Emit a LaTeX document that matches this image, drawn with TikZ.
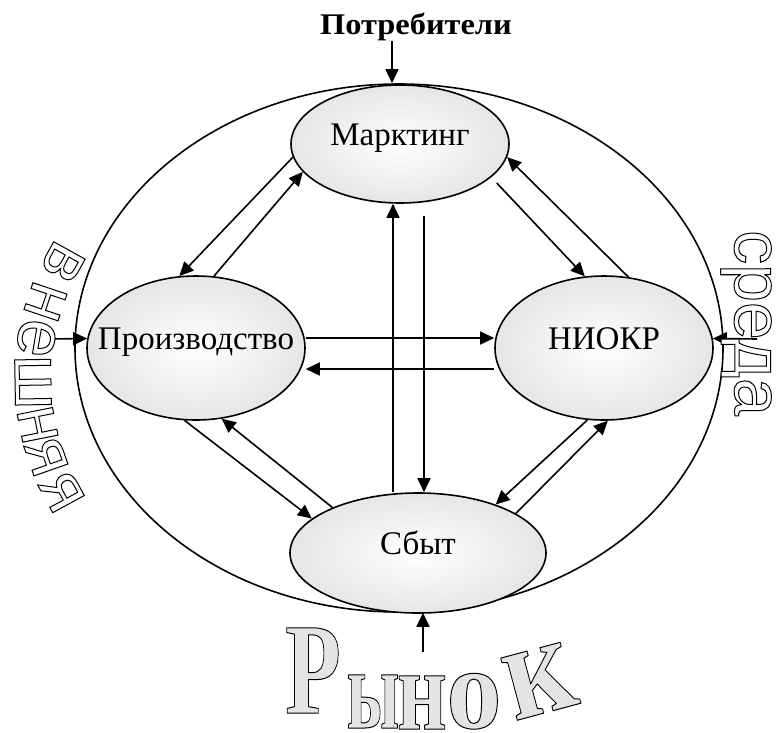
\documentclass[tikz,border=0pt]{standalone}
\usepackage{fontspec}
\setmainfont{Liberation Serif}
\newfontfamily\wordartsans{Liberation Sans}
\usepackage{tikz}
\usetikzlibrary{shapes.geometric,arrows.meta,positioning}
\definecolor{unitshade}{HTML}{E6E6E6}
\definecolor{rynokfill}{HTML}{E4E4E4}
\newcommand{\inell}[1]{\makebox[0pt]{#1}}
% outlined letters: fill with the current colour, stroke in black
\newcommand{\hollow}[2]{\special{pdf:literal direct 2 Tr #1 w 0 G}#2\special{pdf:literal direct 0 Tr}}

\begin{document}
\begin{tikzpicture}[x=1pt,y=-1pt,
  unit/.style={ellipse,draw,line width=1.6pt,minimum width=218pt,minimum height=144pt,
    inner sep=0pt,text height=3pt,text depth=0pt,shade,inner color=white,outer color=unitshade,
    font=\fontsize{33}{33}\selectfont},
  arr/.style={line width=1.6pt,-{Triangle[length=14pt,width=13pt]}},
  bigword/.style={inner sep=0pt,font=\wordartsans\fontsize{68}{68}\selectfont},
  rynokword/.style={inner sep=0pt,anchor=base}]
\useasboundingbox (0,0) rectangle (777,732);
% environment
\node[ellipse,draw,line width=1.6pt,minimum width=648pt,minimum height=528pt] (env) at (399,348) {};
% departments
\node[unit,minimum height=118pt] (mark) at (400,144) {\inell{Марктинг}};
\node[unit] (proizv) at (196,348) {\inell{Производство}};
\node[unit] (niokr) at (604,348) {\inell{НИОКР}};
\node[unit,minimum width=256pt,minimum height=120pt] (sbyt) at (418,553) {\inell{Сбыт}};
% links between departments
\draw[arr] ([xshift=-7pt]mark.south |- sbyt.north) -- ([xshift=-7pt]mark.south);
\draw[arr,shorten <=12pt] ([xshift=24pt]mark.south) -- ([xshift=24pt]mark.south |- sbyt.north);
\draw[arr] ([yshift=10pt]proizv.east) -- ([yshift=10pt]niokr.west);
\draw[arr] ([yshift=-21pt]niokr.west) -- ([yshift=-21pt]proizv.east);
\draw[arr] (mark.187) -- (proizv.103);
\draw[arr] (proizv.76) -- (mark.196);
\draw[arr,shorten <=8pt] (mark.340) -- (niokr.105);
\draw[arr] (niokr.71) -- (mark.353);
\draw[arr] (proizv.261) -- (sbyt.162);
\draw[arr] (sbyt.152) -- (proizv.290);
\draw[arr] (niokr.257) -- (sbyt.32);
\draw[arr] (sbyt.22) -- (niokr.273);
% outside
\node[inner sep=0pt,xscale=1.08,font=\bfseries\fontsize{30}{30}\selectfont] (potr) at (416,27) {Потребители};
\draw[arr] ([xshift=-24pt]potr.south) -- ([xshift=-24pt]potr.south |- env.north);
\coordinate (vn) at (50,339);
\draw[arr] (vn) -- (proizv.175);
\coordinate (sr) at (757,339);
\draw[arr] (sr) -- (niokr.5);
\coordinate (ry) at (423,652);
\draw[arr] (ry) -- (ry |- env.south);
% wordart
\coordinate (arcL) at (272,378);
\foreach \ch/\ang [count=\i] in {в/151,н/161.4,е/170.4,ш/181,н/191.3,я/199.3,я/208.5}
  \node[bigword,rotate=\ang-270] (vn\i) at ([shift={(\ang:239pt)}]arcL) {\color{white}\hollow{1}{\ch}};
\node[bigword,rotate=-90] (sreda) at (746,323) {\color{white}\hollow{1}{среда}};
\foreach \ch/\x/\y/\r/\s/\w [count=\i] in {Р/313/713/0/130/0.7,ы/373/728/0/116/0.58,н/422/729/0/116/0.75,
    о/474/728/0/116/0.95,к/548/712/15/140/0.85}
  \node[rynokword,rotate=\r,xscale=\w,font={\bfseries\fontsize{\s}{\s}\selectfont}] (ry\i) at (\x,\y) {\color{rynokfill}\hollow{1}{\ch}};
\end{tikzpicture}
\end{document}
